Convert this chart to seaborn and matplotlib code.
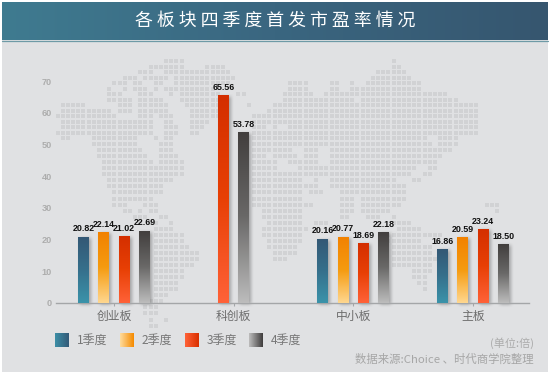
import numpy as np
import pandas as pd
import matplotlib
matplotlib.use("Agg")
import matplotlib.pyplot as plt
from matplotlib.colors import LinearSegmentedColormap
import seaborn as sns

title = "各板块四季度首发市盈率情况"
boards = ["创业板", "科创板", "中小板", "主板"]
quarters = ["1季度", "2季度", "3季度", "4季度"]
q1_values = [20.82, None, 20.16, 16.86]
q2_values = [22.14, None, 20.77, 20.59]
q3_values = [21.02, 65.56, 18.69, 23.24]
q4_values = [22.69, 53.78, 22.18, 18.50]
y_ticks = [0, 10, 20, 30, 40, 50, 60, 70]
unit_note = "(单位:倍)"
source_note = "数据来源:Choice 、时代商学院整理"

bar_ramps = {
    "1季度": ["#335875", "#36708c", "#3b93aa"],
    "2季度": ["#f28200", "#f59b10", "#ffd78f"],
    "3季度": ["#d42f00", "#e84005", "#ff6238"],
    "4季度": ["#423f3e", "#6a6968", "#bcbcbc"],
}
swatch_ramps = {
    "1季度": ["#3c8ea6", "#335a78"],
    "2季度": ["#ffdc9c", "#f58a00"],
    "3季度": ["#ff6238", "#d93000"],
    "4季度": ["#bdbdbd", "#3f3d3d"],
}

# decorative dotted world map: one list of (first column, last column) per row
map_rows = [
    [(21, 24), (65, 65)],
    [(18, 24), (29, 32), (65, 66)],
    [(16, 18), (21, 33), (62, 67)],
    [(13, 15), (17, 21), (23, 33), (34, 34), (61, 68)],
    [(11, 13), (15, 16), (19, 20), (23, 33), (45, 48), (53, 54), (57, 57), (60, 70)],
    [(10, 10), (13, 13), (15, 17), (19, 19), (21, 30), (45, 48), (53, 54), (57, 70)],
    [(10, 12), (16, 18), (22, 22), (24, 31), (35, 36), (44, 49), (52, 75)],
    [(10, 14), (16, 20), (24, 31), (44, 57), (59, 77)],
    [(1, 5), (12, 14), (16, 21), (25, 31), (37, 37), (42, 81)],
    [(1, 10), (12, 14), (16, 21), (26, 31), (41, 81)],
    [(0, 11), (16, 18), (20, 22), (26, 31), (38, 40), (41, 44), (45, 81)],
    [(1, 18), (21, 22), (26, 29), (38, 40), (41, 44), (45, 81)],
    [(1, 18), (21, 23), (26, 28), (38, 40), (42, 42), (45, 81)],
    [(0, 18), (21, 23), (26, 27), (38, 81)],
    [(1, 2), (7, 15), (19, 19), (21, 22), (38, 71), (74, 77)],
    [(7, 15), (20, 22), (38, 72), (74, 77)],
    [(8, 16), (20, 22), (38, 45), (48, 50), (53, 73), (74, 76)],
    [(8, 17), (20, 23), (38, 40), (42, 46), (48, 50), (53, 73), (74, 74)],
    [(9, 18), (20, 24), (38, 42), (45, 50), (53, 73)],
    [(9, 24), (38, 42), (47, 69), (72, 73)],
    [(9, 24), (38, 47), (48, 68), (71, 72)],
    [(10, 22), (38, 47), (50, 50), (53, 65), (69, 70)],
    [(10, 20), (38, 47), (48, 50), (53, 67)],
    [(11, 20), (38, 47), (49, 51), (55, 58), (59, 67)],
    [(11, 18), (38, 47), (55, 57), (59, 67)],
    [(11, 13), (17, 19), (38, 49), (55, 57), (59, 66), (83, 85)],
    [(13, 14), (16, 16), (18, 19), (40, 47), (55, 57), (59, 64), (85, 85)],
    [(15, 17), (20, 21), (40, 47), (55, 56), (60, 62), (65, 65)],
    [(16, 16), (18, 19), (22, 22), (41, 47), (50, 52), (65, 68)],
    [(19, 22), (40, 48), (66, 70)],
    [(19, 24), (40, 47), (64, 74)],
    [(19, 24), (41, 47), (64, 70)],
    [(19, 25), (41, 46), (65, 72)],
    [(19, 27), (42, 46), (65, 72)],
    [(19, 27), (42, 44), (65, 73)],
    [(19, 26), (65, 72)],
    [(19, 24), (69, 72)],
    [(19, 24), (69, 71)],
    [(19, 23), (70, 71)],
    [(19, 23), (71, 71)],
    [(19, 21)],
    [(18, 20)],
    [(17, 19)],
    [(17, 19)],
    [(18, 18), (21, 21)],
    [(18, 19)],
]

PAGE = "#e0e1e3"
W, H = 550, 375

sns.set_theme(style="white")
plt.rcParams["font.family"] = ["Noto Sans CJK SC", "DejaVu Sans"]

fig = plt.figure(figsize=(W / 100, H / 100), dpi=100, facecolor="white")


def pixel_axes(zorder):
    a = fig.add_axes([0, 0, 1, 1], zorder=zorder)
    a.set_xlim(0, W)
    a.set_ylim(H, 0)
    a.axis("off")
    a.patch.set_alpha(0)
    a.set_autoscale_on(False)
    return a


back = pixel_axes(0)
front = pixel_axes(2)

back.fill_between([2, 548], 2, 372, color=PAGE, lw=0)
header = np.linspace(0, 1, 256).reshape(1, -1)
header_cmap = LinearSegmentedColormap.from_list("hdr", ["#3f7b90", "#3a6680", "#36566f"])
back.imshow(header, cmap=header_cmap, extent=(2, 548, 40, 2), aspect="auto", zorder=1)
back.plot([2, 548], [40.5, 40.5], color="#6e9aa6", lw=0.9, zorder=2)
back.set_xlim(0, W)
back.set_ylim(H, 0)


def row_y(r):
    return 61 + 5.5 * r if r <= 14 else 138 + 6.05 * (r - 14)


dots_x, dots_y = [], []
for r, segs in enumerate(map_rows):
    for a, b in segs:
        for c in range(a, b + 1):
            dots_x.append(57.5 + 5.17 * c)
            dots_y.append(row_y(r))
back.scatter(dots_x, dots_y, marker="s", s=6.2, color="#d1d2d4", linewidths=0, zorder=1)

front.text(275.5, 21, " ".join(title), color="white", fontsize=12.9,
           ha="center", va="center")

ax = fig.add_axes([56 / W, 1 - 302.7 / H, (529 - 56) / W, (302.7 - 81.2) / H], zorder=1)
ax.patch.set_alpha(0)

series = {"1季度": q1_values, "2季度": q2_values, "3季度": q3_values, "4季度": q4_values}
df = pd.DataFrame(series, index=boards).rename_axis("board").reset_index().melt(
    id_vars="board", var_name="quarter", value_name="pe").dropna()
colors = {q: bar_ramps[q][0] for q in quarters}

sns.barplot(data=df[df.board != "科创板"], x="board", y="pe", hue="quarter", order=boards,
            hue_order=quarters, palette=colors, width=0.68, gap=0.46, legend=False,
            errorbar=None, ax=ax)
sns.barplot(data=df[df.board == "科创板"], x="board", y="pe", hue="quarter", order=boards,
            hue_order=quarters[2:], palette=colors, width=0.34, gap=0.46, legend=False,
            errorbar=None, ax=ax)

XLIM = (-0.485, 3.468)
YLIM = (0, 70)
ax.set_xlim(XLIM)
ax.set_ylim(YLIM)
ax.set_autoscale_on(False)

px_x = (XLIM[1] - XLIM[0]) / (529 - 56)
px_y = (YLIM[1] - YLIM[0]) / (302.7 - 81.2)


def ramp(x, lo, hi, blur):
    """soft box edge, 0..1"""
    s = np.clip((x - lo + blur) / (2 * blur), 0, 1) * np.clip((hi + blur - x) / (2 * blur), 0, 1)
    return s * s * (3 - 2 * s)


containers = list(ax.containers)
hue_by_container = quarters + quarters[2:]
for cont, q in zip(containers, hue_by_container):
    cmap = LinearSegmentedColormap.from_list(q, bar_ramps[q])
    for bar in cont:
        x0, w, h = bar.get_x(), bar.get_width(), bar.get_height()
        if not h or np.isnan(h):
            continue
        bar.set_alpha(0)
        # soft shadow
        xs = np.linspace(x0 - 8 * px_x, x0 + w + 10 * px_x, 60)
        ys = np.linspace(-6 * px_y, h + 5 * px_y, 160)
        alpha = np.outer(ramp(ys, 0 - 1.5 * px_y, h - 1 * px_y, 3.5 * px_y)[::-1],
                         ramp(xs, x0 + 2 * px_x, x0 + w + 2 * px_x, 3.5 * px_x))
        rgba = np.zeros(alpha.shape + (4,))
        rgba[..., :3] = 0.32
        rgba[..., 3] = 0.46 * alpha
        ax.imshow(rgba, extent=(xs[0], xs[-1], ys[0], ys[-1]), aspect="auto",
                  zorder=1.5, clip_on=False, interpolation="bilinear")
        # gradient bar
        ax.imshow(np.linspace(0, 1, 128).reshape(-1, 1), cmap=cmap,
                  extent=(x0, x0 + w, 0, h), aspect="auto", zorder=3, interpolation="bilinear")
    ax.bar_label(cont, fmt="%.2f", padding=2.6, fontsize=6.4, fontweight="bold",
                 family="Liberation Sans", color="#111111", zorder=5)
ax.set_xlim(XLIM)
ax.set_ylim(YLIM)

sns.despine(ax=ax, left=True, right=True, top=True)
ax.spines["bottom"].set_color("#a4a6a8")
ax.spines["bottom"].set_linewidth(1.0)
ax.spines["bottom"].set_zorder(2)
ax.set_xlabel("")
ax.set_ylabel("")
ax.set_yticks(y_ticks)
ax.tick_params(axis="y", length=0, pad=3, labelsize=6.6, labelcolor="#adadad")
for t in ax.get_yticklabels():
    t.set_fontweight("bold")
    t.set_family("Liberation Sans")
ax.tick_params(axis="x", length=2, width=0.8, color="#a4a6a8", pad=3.5, labelsize=8.5,
               labelcolor="#6b6b6b", bottom=True)

swatch_x = [55, 120, 184.5, 249]
for sx, q in zip(swatch_x, quarters):
    cmap = LinearSegmentedColormap.from_list("s" + q, swatch_ramps[q])
    front.imshow(np.linspace(0, 1, 64).reshape(1, -1), cmap=cmap,
                 extent=(sx, sx + 14, 347, 333), aspect="auto", interpolation="bilinear")
    front.text(sx + 22, 340, q, color="#777777", fontsize=8.6, va="center", ha="left")
front.set_xlim(0, W)
front.set_ylim(H, 0)

front.text(534, 343, unit_note, color="#ababab", fontsize=8, ha="right", va="center")
front.text(534, 359, source_note, color="#a6a6a6", fontsize=8.2, ha="right", va="center")

fig.savefig("out.png", dpi=100, facecolor="white")
